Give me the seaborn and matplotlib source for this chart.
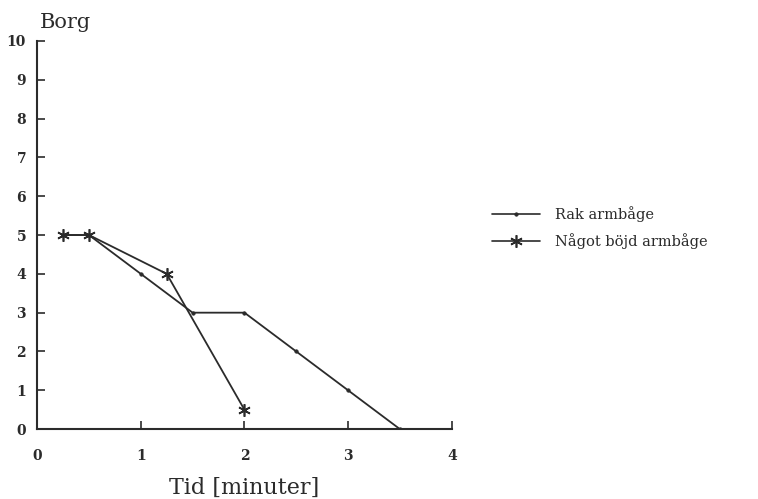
import matplotlib
matplotlib.use("Agg")
import matplotlib.pyplot as plt
import seaborn as sns
import pandas as pd

# Borg ratings over time for two elbow positions
rak_tid = [0.25, 0.5, 1.0, 1.5, 2.0, 2.5, 3.0, 3.5]
rak_borg = [5, 5, 4, 3, 3, 2, 1, 0]
bojd_tid = [0.25, 0.5, 1.25, 2.0]
bojd_borg = [5, 5, 4, 0.5]
serie_namn = ["Rak armbåge", "Något böjd armbåge"]
x_ticks = [0, 1, 2, 3, 4]
y_ticks = list(range(0, 11))

df_rak = pd.DataFrame({"Tid": rak_tid, "Borg": rak_borg})
df_bojd = pd.DataFrame({"Tid": bojd_tid, "Borg": bojd_borg})

sns.set_theme(style="white")
plt.rcParams["font.family"] = ["DejaVu Serif"]

ink = "#2b2b2b"
fig = plt.figure(figsize=(7.58, 4.99), dpi=100)
ax = fig.add_axes([0.049, 0.140, 0.547, 0.778])

sns.lineplot(data=df_rak, x="Tid", y="Borg", color=ink, marker="o",
             markersize=2.5, markeredgewidth=0.5, markeredgecolor=ink,
             sort=False, linewidth=1.3, label=serie_namn[0], ax=ax)
sns.lineplot(data=df_bojd, x="Tid", y="Borg", color=ink, marker=(6, 2, 0),
             markersize=9, markeredgewidth=1.2, markeredgecolor=ink,
             sort=False, linewidth=1.3, label=serie_namn[1], ax=ax)

ax.set_xlim(0, 4)
ax.set_ylim(0, 10)
ax.set_xticks(x_ticks)
ax.set_yticks(y_ticks)
ax.tick_params(direction="in", length=6, width=1.2, color=ink,
               labelsize=10, labelcolor=ink, left=True, bottom=True)
ax.tick_params(axis="x", pad=14)
ax.tick_params(axis="y", pad=8)
for lab in ax.get_xticklabels() + ax.get_yticklabels():
    lab.set_fontweight("bold")
for s in ["top", "right"]:
    ax.spines[s].set_visible(False)
for s in ["left", "bottom"]:
    ax.spines[s].set_color(ink)
    ax.spines[s].set_linewidth(1.5)

ax.set_xlabel("Tid [minuter]", fontsize=16, color=ink, labelpad=10)
ax.set_ylabel("")
fig.text(0.052, 0.935, "Borg", fontsize=15, color=ink, ha="left", va="bottom")

leg = ax.legend(loc="center left", bbox_to_anchor=(1.065, 0.52), frameon=False,
                fontsize=10.5, handlelength=3.3, handletextpad=1.0,
                labelspacing=0.75, labelcolor=ink)
for h in leg.legend_handles:
    h.set_color(ink)
    h.set_linewidth(1.2)

fig.savefig("out.png", dpi=100, facecolor="white")
